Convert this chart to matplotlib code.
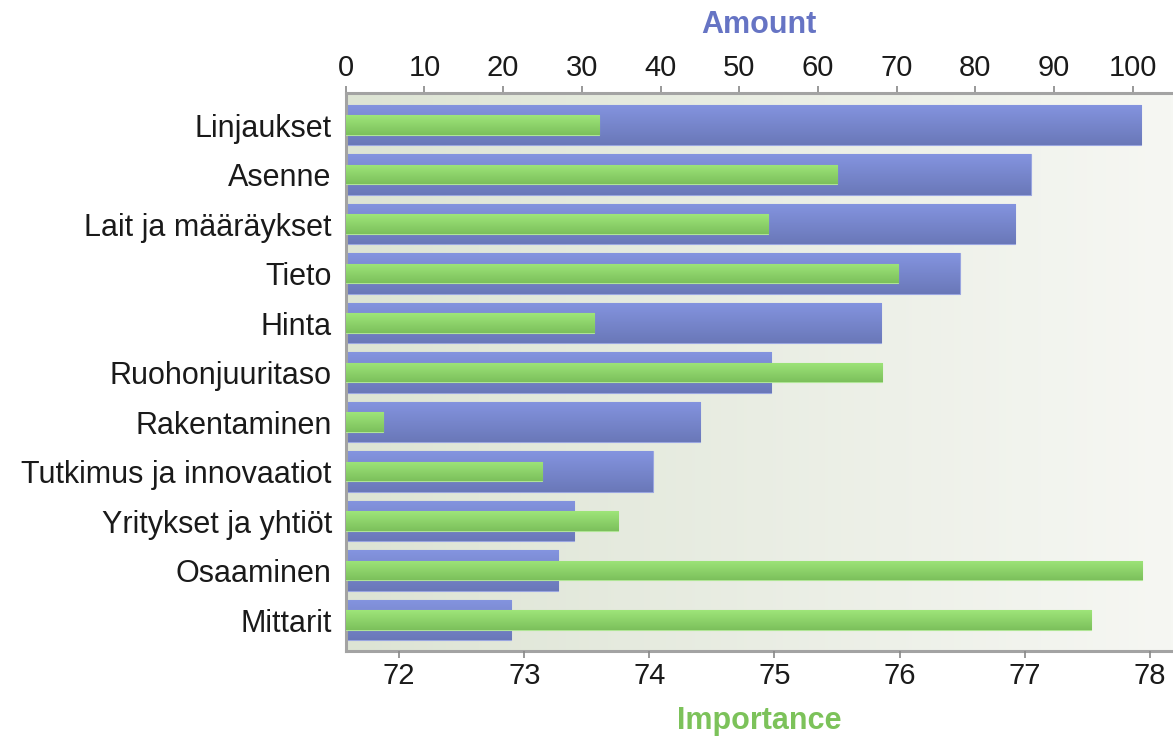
"""Amount vs importance, two-scale horizontal bars"""

import numpy as np
import matplotlib.pyplot as plt
from matplotlib.colors import LinearSegmentedColormap

categories = ["Linjaukset", "Asenne", "Lait ja määräykset", "Tieto", "Hinta",
              "Ruohonjuuritaso", "Rakentaminen", "Tutkimus ja innovaatiot",
              "Yritykset ja yhtiöt", "Osaaminen", "Mittarit"]
amount = [101, 87, 85, 78, 68, 54, 45, 39, 29, 27, 21]
importance = [73.60, 75.50, 74.95, 75.99, 73.56, 75.86, 71.87, 73.14, 73.75, 77.94, 77.53]
amount_ticks = list(range(0, 101, 10))
importance_ticks = list(range(72, 79))

plt.rcParams['font.family'] = ['Liberation Sans', 'DejaVu Sans']

AMOUNT_LIM = (0, 105.1)
IMP_LIM = (71.572, 78.186)
SPINE = '#a3a3a3'


def gradient_bars(axis, bars, top_color, bottom_color):
    """Fill each bar with a vertical gradient"""
    cmap = LinearSegmentedColormap.from_list('grad', [top_color, bottom_color])
    grad = np.linspace(0, 1, 64).reshape(-1, 1)
    for bar in bars:
        x0, y0 = bar.get_x(), bar.get_y()
        w, h = bar.get_width(), bar.get_height()
        im = axis.imshow(grad, cmap=cmap, aspect='auto', interpolation='bilinear',
                         extent=(x0, x0 + w, y0 + h, y0), zorder=bar.get_zorder() + 0.1)
        im.set_clip_path(bar)


fig = plt.figure(figsize=(11.73, 7.36), dpi=100)
ax = fig.add_axes([0.2947, 0.1159, 0.7053, 0.7573])
ax2 = ax.twiny()

# background gradient
bg_cmap = LinearSegmentedColormap.from_list('bg', ['#dde4d4', '#f6f7f3'])
ax.imshow(np.linspace(0, 1, 256).reshape(1, -1), cmap=bg_cmap, aspect='auto',
          extent=(0, 1, 0, 1), transform=ax.transAxes, zorder=0)
ax.set_facecolor('none')

ypos = np.arange(len(categories))

# amount bars (top axis)
blue = ax.barh(ypos, amount, height=0.81, color='#7886cf', edgecolor='#9aa6e0',
               linewidth=0.8, zorder=2)
gradient_bars(ax, blue, '#8494e0', '#6a78b8')

# importance bars (bottom axis)
green = ax2.barh(ypos, np.array(importance) - IMP_LIM[0], left=IMP_LIM[0], height=0.40,
                 color='#8fd46c', edgecolor='#b0e596', linewidth=0.8, zorder=3)
gradient_bars(ax2, green, '#9ee579', '#7cc05c')

ax.set_xlim(*AMOUNT_LIM)
ax2.set_xlim(*IMP_LIM)
ax.set_ylim(10.62, -0.64)

# top axis: amount
ax.xaxis.tick_top()
ax.xaxis.set_label_position('top')
ax.set_xticks(amount_ticks)
ax.tick_params(axis='x', labelsize=21, colors='#888888', labelcolor='#1a1a1a',
               length=5, width=1.2, pad=3)
ax.set_xlabel("Amount", fontsize=22, fontweight='bold', color='#6674c4', labelpad=15)

# bottom axis: importance
ax2.xaxis.tick_bottom()
ax2.xaxis.set_label_position('bottom')
ax2.set_xticks(importance_ticks)
ax2.tick_params(axis='x', labelsize=21, colors='#888888', labelcolor='#1a1a1a',
                length=5, width=1.2, pad=3)
ax2.set_xlabel("Importance", fontsize=22, fontweight='bold', color='#7cc25a', labelpad=12)

ax.set_yticks(ypos)
ax.set_yticklabels(categories, fontsize=22, color='#1a1a1a')
ax.tick_params(axis='y', length=0, pad=10)

for side in ('top', 'left', 'bottom'):
    ax.spines[side].set_color(SPINE)
    ax.spines[side].set_linewidth(2.2)
ax.spines['right'].set_visible(False)
for side in ax2.spines:
    ax2.spines[side].set_visible(False)

fig.savefig("out.png", dpi=100)
